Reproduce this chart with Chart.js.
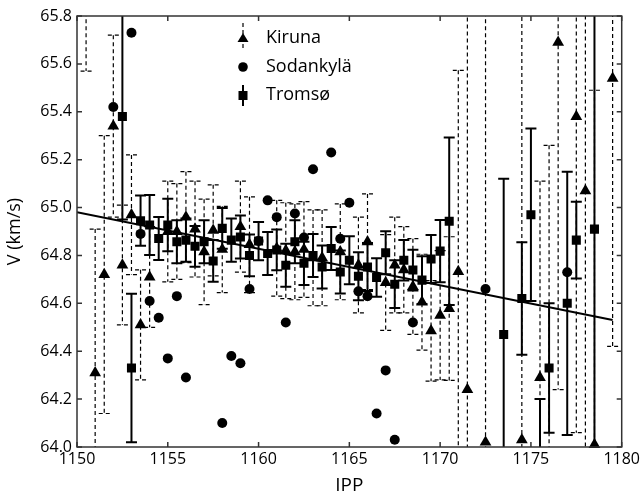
<!DOCTYPE html>
<html>
<head>
<meta charset="utf-8">
<script src="https://cdn.jsdelivr.net/npm/chart.js@4.4.0/dist/chart.umd.min.js"></script>
<style>
  html, body { margin: 0; padding: 0; background: #fff; }
  #wrap { width: 643px; height: 497px; position: relative; }
</style>
</head>
<body>
<div id="wrap"><canvas id="vChart"></canvas></div>
<script>
// Kiruna (треугольники, пунктирные ошибки)
const kirunaX = [1150.5, 1151.0, 1151.5, 1152.0, 1152.5, 1153.0, 1153.5, 1154.0, 1155.0, 1155.5,
    1156.0, 1156.5, 1157.0, 1157.5, 1158.0, 1159.0, 1159.5, 1161.0, 1161.5, 1162.0,
    1162.5, 1163.0, 1163.5, 1164.5, 1165.5, 1166.0, 1167.0, 1167.5, 1168.0, 1168.5,
    1169.0, 1169.5, 1170.0, 1170.5, 1171.0, 1171.5, 1172.5, 1174.5, 1175.5, 1176.0,
    1176.5, 1177.5, 1178.0, 1178.5, 1179.5];
const kirunaV = [66.0, 64.31, 64.72, 65.34, 64.76, 64.97, 64.51, 64.71, 64.90, 64.90,
    64.96, 64.91, 64.815, 64.905, 64.825, 64.92, 64.845, 64.83, 64.82, 64.815,
    64.825, 64.79, 64.79, 64.815, 64.76, 64.857, 64.687, 64.76, 64.74, 64.67,
    64.605, 64.485, 64.55, 64.578, 64.733, 64.24, 64.02, 64.03, 64.29, 63.9,
    65.69, 65.38, 65.07, 64.01, 65.54];
const kirunaErr = [0.43, 0.60, 0.58, 0.38, 0.25, 0.25, 0.23, 0.21, 0.21, 0.20,
    0.19, 0.20, 0.22, 0.19, 0.18, 0.19, 0.20, 0.20, 0.20, 0.20,
    0.20, 0.20, 0.20, 0.20, 0.20, 0.20, 0.20, 0.20, 0.18, 0.20,
    0.20, 0.21, 0.27, 0.30, 0.84, 1.70, 2.00, 2.00, 0.82, 1.36,
    1.45, 1.32, 1.20, 1.48, 1.12];

// Sodankylä (кружки)
const sodankylaX = [1152.0, 1153.0, 1153.5, 1154.0, 1154.5, 1155.0, 1155.5, 1156.0, 1158.0, 1158.5,
    1159.0, 1159.5, 1160.0, 1160.5, 1161.0, 1161.5, 1162.0, 1162.5, 1163.0, 1164.0,
    1164.5, 1165.0, 1165.5, 1166.0, 1166.5, 1167.0, 1167.5, 1168.5, 1172.5, 1177.0];
const sodankylaV = [65.42, 65.73, 64.89, 64.61, 64.54, 64.37, 64.63, 64.29, 64.10, 64.38,
    64.35, 64.66, 64.86, 65.03, 64.96, 64.52, 64.975, 64.875, 65.16, 65.23,
    64.87, 65.02, 64.65, 64.63, 64.14, 64.32, 64.03, 64.52, 64.66, 64.73];

// Tromsø (квадраты, сплошные ошибки)
const tromsoX = [1152.5, 1153.0, 1153.5, 1154.0, 1154.5, 1155.0, 1155.5, 1156.0, 1156.5, 1157.0,
    1157.5, 1158.0, 1158.5, 1159.0, 1159.5, 1160.0, 1160.5, 1161.0, 1161.5, 1162.0,
    1162.5, 1163.0, 1163.5, 1164.0, 1164.5, 1165.0, 1165.5, 1166.0, 1166.5, 1167.0,
    1167.5, 1168.0, 1168.5, 1169.0, 1169.5, 1170.0, 1170.5, 1173.5, 1174.5, 1175.0,
    1175.5, 1176.0, 1177.0, 1177.5, 1178.5];
const tromsoV = [65.38, 64.33, 64.945, 64.927, 64.871, 64.927, 64.857, 64.864, 64.838, 64.857,
    64.777, 64.913, 64.864, 64.877, 64.80, 64.86, 64.808, 64.823, 64.759, 64.857,
    64.767, 64.80, 64.752, 64.829, 64.731, 64.78, 64.713, 64.752, 64.708, 64.811,
    64.68, 64.78, 64.739, 64.697, 64.785, 64.818, 64.943, 64.47, 64.62, 64.97,
    63.88, 64.33, 64.60, 64.864, 64.91];
const tromsoErr = [0.43, 0.31, 0.105, 0.125, 0.09, 0.11, 0.09, 0.09, 0.085, 0.09,
    0.087, 0.085, 0.09, 0.09, 0.087, 0.08, 0.09, 0.085, 0.09, 0.09,
    0.09, 0.09, 0.09, 0.09, 0.09, 0.1, 0.1, 0.1, 0.08, 0.09,
    0.1, 0.085, 0.085, 0.1, 0.1, 0.13, 0.35, 0.65, 0.235, 0.36,
    0.32, 0.27, 0.55, 0.16, 1.2];

// Линейная аппроксимация
const fitX = [1150, 1179.5];
const fitV = [64.98, 64.53];

const xTicks = [1150, 1155, 1160, 1165, 1170, 1175, 1180];

const toPoints = (xs, ys) => xs.map((x, i) => ({ x: x, y: ys[i] }));

// Планки погрешностей
const errorBarPlugin = {
    id: 'errorBars',
    beforeDatasetsDraw(chart) {
        const { ctx, chartArea, scales } = chart;
        ctx.save();
        ctx.beginPath();
        ctx.rect(chartArea.left, chartArea.top, chartArea.right - chartArea.left, chartArea.bottom - chartArea.top);
        ctx.clip();
        chart.data.datasets.forEach(ds => {
            if (!ds.errors) return;
            ctx.strokeStyle = '#000';
            ctx.lineWidth = ds.errorWidth;
            ctx.setLineDash(ds.errorDash);
            const cap = ds.capHalf;
            ds.data.forEach((p, i) => {
                const px = scales.x.getPixelForValue(p.x);
                const top = scales.y.getPixelForValue(p.y + ds.errors[i]);
                const bot = scales.y.getPixelForValue(p.y - ds.errors[i]);
                ctx.beginPath();
                ctx.moveTo(px, top);
                ctx.lineTo(px, bot);
                ctx.moveTo(px - cap, top);
                ctx.lineTo(px + cap, top);
                ctx.moveTo(px - cap, bot);
                ctx.lineTo(px + cap, bot);
                ctx.stroke();
            });
        });
        ctx.restore();
    }
};

// Рамка и засечки внутрь
const framePlugin = {
    id: 'frame',
    afterDatasetsDraw(chart) {
        const { ctx, chartArea: a, scales } = chart;
        const len = 5;
        ctx.save();
        ctx.strokeStyle = '#333';
        ctx.lineWidth = 1.5;
        ctx.setLineDash([]);
        ctx.strokeRect(a.left, a.top, a.right - a.left, a.bottom - a.top);
        ctx.beginPath();
        scales.x.ticks.forEach(t => {
            const px = scales.x.getPixelForValue(t.value);
            ctx.moveTo(px, a.bottom);
            ctx.lineTo(px, a.bottom - len);
            ctx.moveTo(px, a.top);
            ctx.lineTo(px, a.top + len);
        });
        scales.y.ticks.forEach(t => {
            const py = scales.y.getPixelForValue(t.value);
            ctx.moveTo(a.left, py);
            ctx.lineTo(a.left + len, py);
            ctx.moveTo(a.right, py);
            ctx.lineTo(a.right - len, py);
        });
        ctx.stroke();
        ctx.restore();
    }
};

// Легенда внутри графика
const legendPlugin = {
    id: 'innerLegend',
    afterDraw(chart) {
        const { ctx } = chart;
        const mx = 243, tx = 266;
        ctx.save();
        ctx.fillStyle = '#000';
        ctx.strokeStyle = '#000';

        ctx.lineWidth = 1.2;
        ctx.setLineDash([4, 3]);
        ctx.beginPath();
        ctx.moveTo(mx, 23);
        ctx.lineTo(mx, 51);
        ctx.stroke();
        ctx.setLineDash([]);
        ctx.beginPath();
        ctx.moveTo(mx, 33);
        ctx.lineTo(mx + 5.5, 42);
        ctx.lineTo(mx - 5.5, 42);
        ctx.closePath();
        ctx.fill();

        ctx.beginPath();
        ctx.arc(mx, 67, 4.8, 0, Math.PI * 2);
        ctx.fill();

        ctx.lineWidth = 2;
        ctx.beginPath();
        ctx.moveTo(mx, 85);
        ctx.lineTo(mx, 106);
        ctx.stroke();
        ctx.fillRect(mx - 4.5, 91, 9, 9);

        ctx.font = '18px "Open Sans"';
        ctx.textBaseline = 'middle';
        ctx.textAlign = 'left';
        ctx.fillText('Kiruna', tx, 38);
        ctx.fillText('Sodankylä', tx, 67);
        ctx.fillText('Tromsø', tx, 95);
        ctx.restore();
    }
};

Chart.defaults.font.family = '"Open Sans", sans-serif';
Chart.defaults.color = '#000';

const vChart = document.getElementById('vChart');

const vChartConfig = {
    type: 'scatter',
    data: {
        datasets: [
            {
                label: 'Kiruna',
                data: toPoints(kirunaX, kirunaV),
                errors: kirunaErr,
                errorWidth: 1.2,
                errorDash: [4, 3],
                capHalf: 5.5,
                pointStyle: 'triangle',
                pointRadius: 6.8,
                backgroundColor: '#000',
                borderColor: '#000',
                borderWidth: 0,
                clip: { left: 6, right: 6, top: 0, bottom: 6 },
            },
            {
                label: 'Sodankylä',
                data: toPoints(sodankylaX, sodankylaV),
                pointStyle: 'circle',
                pointRadius: 5,
                backgroundColor: '#000',
                borderColor: '#000',
                borderWidth: 0,
            },
            {
                label: 'Tromsø',
                data: toPoints(tromsoX, tromsoV),
                errors: tromsoErr,
                errorWidth: 2,
                errorDash: [],
                capHalf: 5.5,
                pointStyle: 'rect',
                pointRadius: 6.4,
                backgroundColor: '#000',
                borderColor: '#000',
                borderWidth: 0,
                clip: { left: 6, right: 6, top: 0, bottom: 0 },
            },
            {
                type: 'line',
                label: 'fit',
                data: toPoints(fitX, fitV),
                borderColor: '#000',
                borderWidth: 2,
                pointRadius: 0,
                fill: false,
            },
        ]
    },
    options: {
        responsive: true,
        maintainAspectRatio: false,
        animation: false,
        layout: { padding: { top: 16, right: 20, left: 0, bottom: 0 } },
        plugins: {
            legend: { display: false },
            tooltip: { enabled: false },
        },
        scales: {
            x: {
                type: 'linear',
                min: 1150,
                max: 1180,
                afterBuildTicks: scale => { scale.ticks = xTicks.map(v => ({ value: v })); },
                afterFit: scale => { scale.height = 50; },
                grid: { display: false, drawTicks: false },
                border: { display: false },
                ticks: {
                    padding: 3,
                    font: { size: 16 },
                    color: '#000',
                    callback: v => String(v),
                },
                title: {
                    display: true,
                    text: 'IPP',
                    font: { size: 19 },
                    color: '#000',
                    padding: { top: 0, bottom: 0 },
                },
            },
            y: {
                type: 'linear',
                min: 64.0,
                max: 65.8,
                afterFit: scale => { scale.width = 77; },
                grid: { display: false, drawTicks: false },
                border: { display: false },
                ticks: {
                    stepSize: 0.2,
                    padding: 5,
                    font: { size: 16 },
                    color: '#000',
                    callback: v => Number(v).toFixed(1),
                },
                title: {
                    display: true,
                    text: 'V (km/s)',
                    font: { size: 18 },
                    color: '#000',
                    padding: { top: 4, bottom: 0 },
                },
            },
        },
    },
    plugins: [errorBarPlugin, framePlugin, legendPlugin],
};

new Chart(vChart, vChartConfig);
</script>
</body>
</html>
